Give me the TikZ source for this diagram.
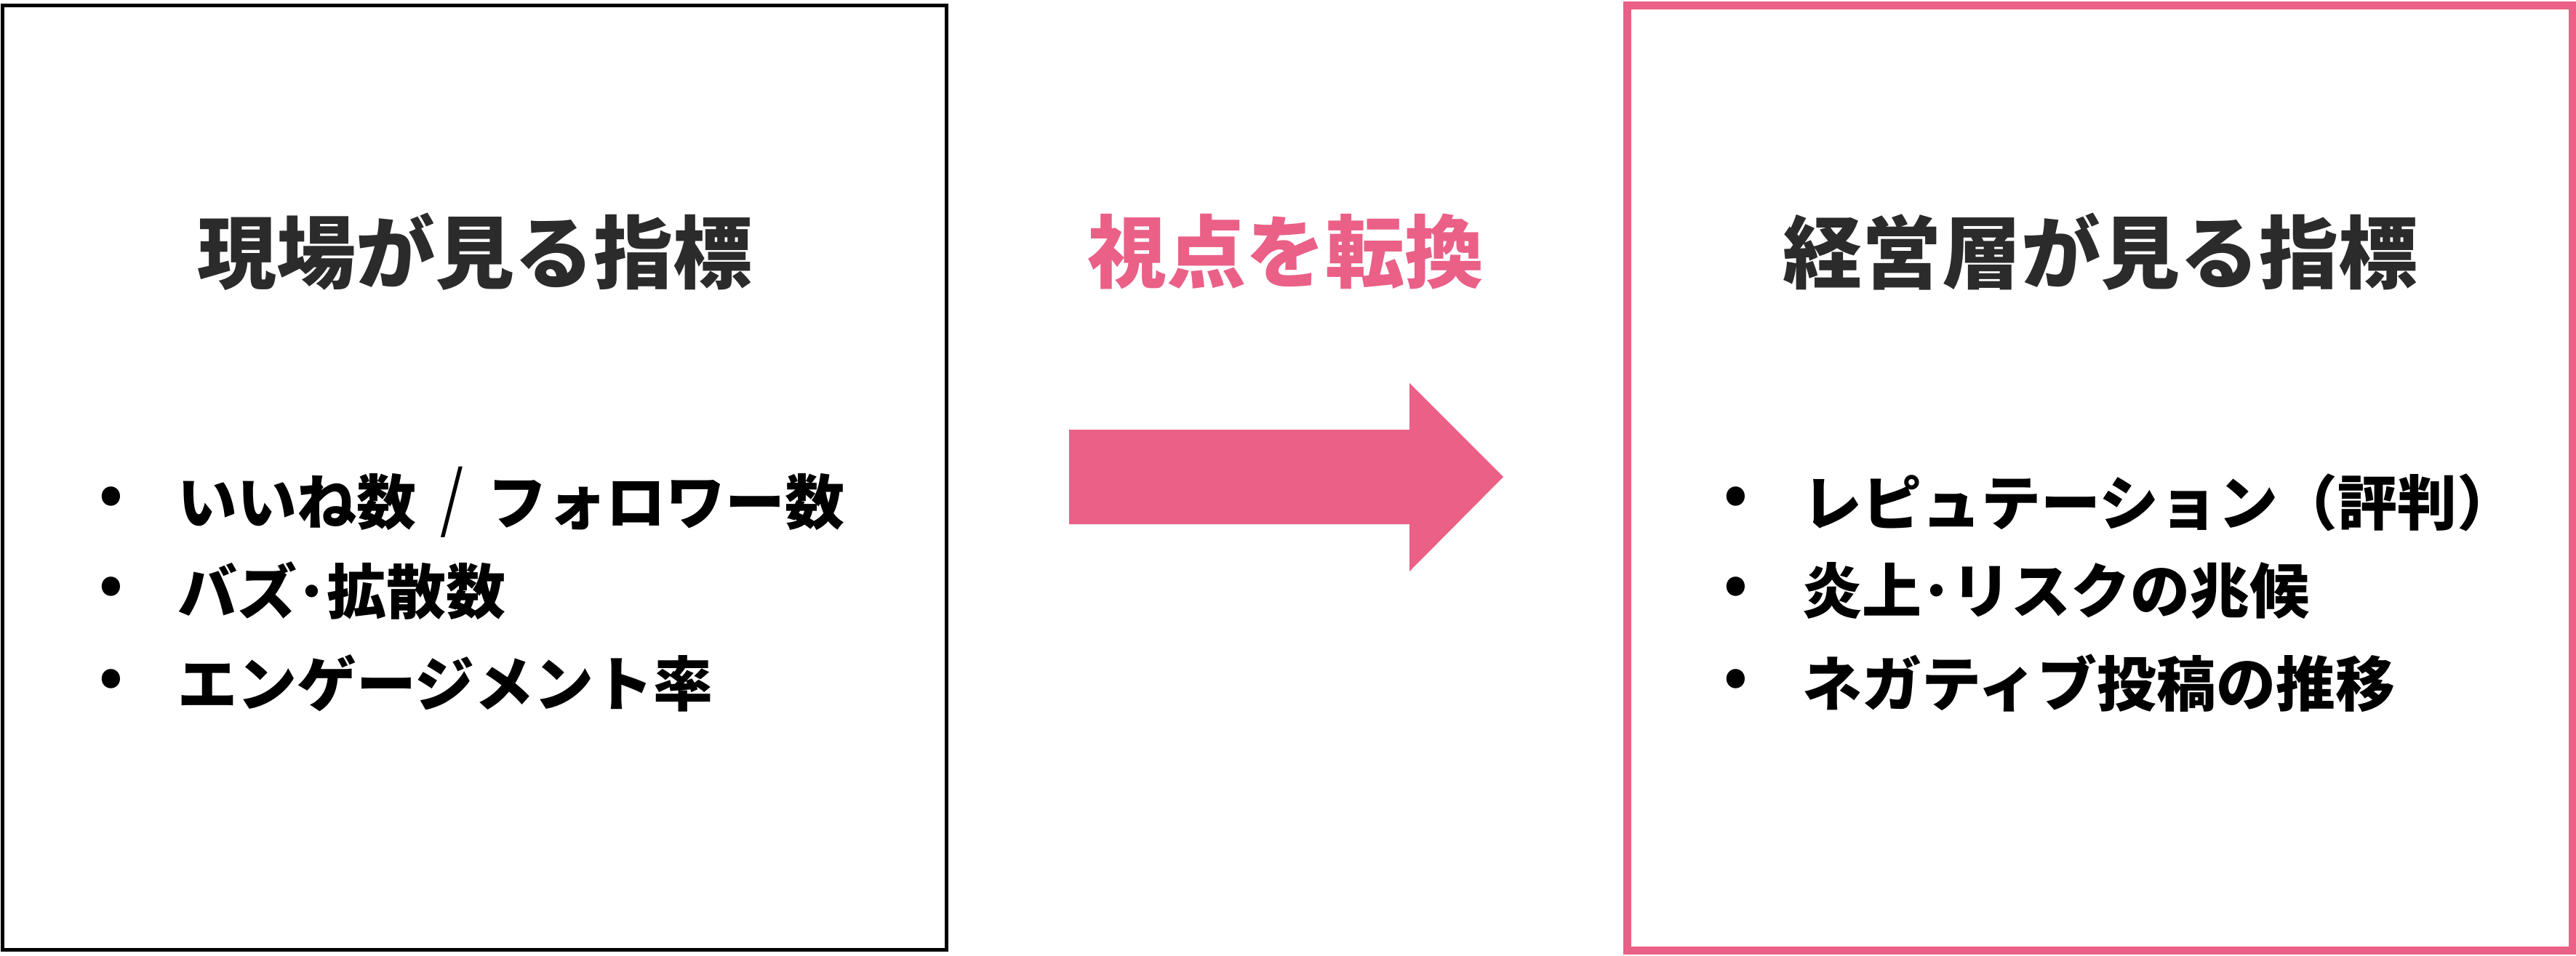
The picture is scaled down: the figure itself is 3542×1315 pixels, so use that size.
\documentclass[tikz,border=0pt]{standalone}
\usepackage{fontspec}
\setmainfont{Noto Sans CJK JP}
\definecolor{accent}{HTML}{EA6087}
\definecolor{titlegray}{HTML}{2B2B2B}
\begin{document}
\begin{tikzpicture}[x=0.01cm,y=-0.01cm,
  title/.style={font=\fontsize{31}{31}\selectfont\bfseries, text=titlegray, inner sep=0pt},
  item/.style={font=\fontsize{23.3}{23.3}\selectfont\bfseries, text=black, inner sep=0pt, anchor=west},
  bul/.style={font=\fontsize{23.3}{23.3}\selectfont\bfseries, text=black, inner sep=0pt},
  panel/.style={draw, fill=none, inner sep=0pt, minimum width=12.98cm, minimum height=12.98cm}]
\useasboundingbox (0,0) rectangle (3542,1315);
% panels
\node[panel, draw=black, line width=0.05cm] (leftbox) at (652.5,657) {};
\node[panel, draw=accent, line width=0.11cm, minimum width=12.99cm, minimum height=12.99cm] (rightbox) at (2887.5,657.5) {};
% titles
\node[title] (lt) at (653,346) {現場が見る指標};
\node[title, text=accent] (mt) at (1768,346) {視点を転換};
\node[title] (rt) at (2888,346) {経営層が見る指標};
% block arrow
\fill[accent] (1470,591) -- (1938,591) -- (1938,527) -- (2067,656) -- (1938,786) -- (1938,721) -- (1470,721) -- cycle;
% left items
\node[bul] (lb1) at (153,689) {•};
\node[bul] (lb2) at (153,813) {•};
\node[bul] (lb3) at (153,940) {•};
\node[item] (li1) at (244,691) {いいね数\hspace{0.4em}{\mdseries\scalebox{1}[1.22]{/}}\hspace{0.4em}フォロワー数};
\node[item] (li2) at (244,813) {バズ･拡散数};
\node[item] (li3) at (244,940) {エンゲージメント率};
% right items
\node[bul] (rb1) at (2387,689) {•};
\node[bul] (rb2) at (2387,813) {•};
\node[bul] (rb3) at (2387,940) {•};
\node[item] (ri1) at (2478,691) {レピュテーション（評判）};
\node[item] (ri2) at (2478,813) {炎上･リスクの兆候};
\node[item] (ri3) at (2478,940) {ネガティブ投稿の推移};
\end{tikzpicture}
\end{document}
